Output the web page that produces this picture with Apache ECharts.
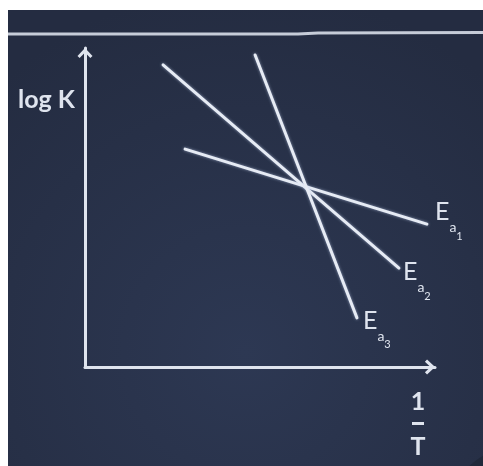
<!DOCTYPE html>
<html lang="en">
<head>
    <meta charset="UTF-8">
    <title>log K vs 1/T</title>
    <script src="https://cdn.jsdelivr.net/npm/echarts@6/dist/echarts.min.js"></script>
    <style>
        html, body {
            margin: 0;
            padding: 0;
            background-color: #fff;
        }

        #main {
            position: absolute;
            left: 8px;
            top: 10px;
            width: 475px;
            height: 456px;
        }
    </style>
</head>
<body>
    <div id="main"></div>
</body>
<script>
    // three lines, start and end point of each (x = 1/T, y = log K, arbitrary units 0..10)
    const lineNames = ['Ea1', 'Ea2', 'Ea3'];
    const lineX = [[2.86, 9.77], [2.23, 8.97], [4.86, 7.77]];
    const lineY = [[6.83, 4.48], [9.47, 3.10], [9.78, 1.54]];
    const subscripts = ['1', '2', '3'];

    const axisMin = 0;
    const axisMax = 10;

    const yName = 'log K';
    const xNameTop = '1';
    const xNameBottom = 'T';

    const ink = '#dfe4ee';
    const font = 'Lato, "Open Sans", sans-serif';

    // label placement relative to the end of each line
    const labelPos = [[8.5, -24.5], [4.5, -8.5], [6.5, -9.5]];

    let chart = echarts.init(document.getElementById('main'));

    // open chevron arrow, tip up
    const chevron = 'path://M7,0 L14,7.5 L12,9.5 L7,4.3 L2,9.5 L0,7.5 Z';

    let series = lineNames.map(function (name, i) {
        let pts = lineX[i].map(function (x, j) { return [x, lineY[i][j]]; });
        let last = pts[pts.length - 1];
        return {
            name: name,
            type: 'line',
            data: pts,
            symbol: 'none',
            silent: true,
            lineStyle: {
                color: '#e6ebf4',
                width: 3,
                cap: 'round',
                shadowColor: 'rgba(200,215,245,0.6)',
                shadowBlur: 3
            },
            markPoint: {
                symbol: 'circle',
                symbolSize: 1,
                itemStyle: { color: 'rgba(0,0,0,0)' },
                silent: true,
                data: [{ coord: last }],
                label: {
                    show: true,
                    position: labelPos[i],
                    align: 'left',
                    verticalAlign: 'top',
                    formatter: '{e|E}{a|a}{s|' + subscripts[i] + '}',
                    rich: {
                        e: { fontFamily: font, fontSize: 25, color: ink, height: 26, verticalAlign: 'top' },
                        a: { fontFamily: font, fontSize: 14, color: ink, height: 57, verticalAlign: 'top' },
                        s: { fontFamily: font, fontSize: 11, color: ink, height: 74, verticalAlign: 'top' }
                    }
                }
            }
        };
    });

    let axisCommon = {
        type: 'value',
        min: axisMin,
        max: axisMax,
        axisLine: {
            show: true,
            symbol: ['none', chevron],
            symbolSize: [15, 11],
            symbolOffset: [0, -5],
            lineStyle: { color: ink, width: 3 }
        },
        axisTick: { show: false },
        axisLabel: { show: false },
        splitLine: { show: false }
    };

    let option = {
        animation: false,
        backgroundColor: {
            type: 'radial',
            x: 0.5, y: 0.75, r: 0.8,
            colorStops: [
                { offset: 0, color: '#2d3853' },
                { offset: 1, color: '#242c41' }
            ]
        },
        grid: {
            left: 77,
            top: 38,
            width: 350,
            height: 319
        },
        xAxis: axisCommon,
        yAxis: axisCommon,
        graphic: [
            {
                // dark blob in the lower right corner of the photo
                type: 'circle',
                shape: { cx: 505, cy: 500, r: 62 },
                style: { fill: '#20283a' },
                z: -1,
                silent: true
            },
            {
                // rule across the top of the slide
                type: 'polyline',
                shape: { points: [[0, 24], [290, 24], [310, 23], [475, 22.5]] },
                style: { stroke: '#c6ccd8', lineWidth: 3, fill: null },
                silent: true
            },
            {
                type: 'text',
                x: 10,
                y: 77,
                style: {
                    text: yName,
                    font: 'bold 25px ' + font,
                    fill: ink,
                    lineHeight: 25,
                    verticalAlign: 'top'
                },
                silent: true
            },
            {
                type: 'text',
                x: 410,
                y: 379,
                style: {
                    text: xNameTop,
                    font: 'bold 25px ' + font,
                    fill: ink,
                    align: 'center',
                    verticalAlign: 'top'
                },
                silent: true
            },
            {
                type: 'rect',
                shape: { x: 404, y: 412, width: 12, height: 3 },
                style: { fill: ink },
                silent: true
            },
            {
                type: 'text',
                x: 410,
                y: 424,
                style: {
                    text: xNameBottom,
                    font: 'bold 25px ' + font,
                    fill: ink,
                    align: 'center',
                    verticalAlign: 'top'
                },
                silent: true
            }
        ],
        series: series
    };

    chart.setOption(option);
</script>
</html>
